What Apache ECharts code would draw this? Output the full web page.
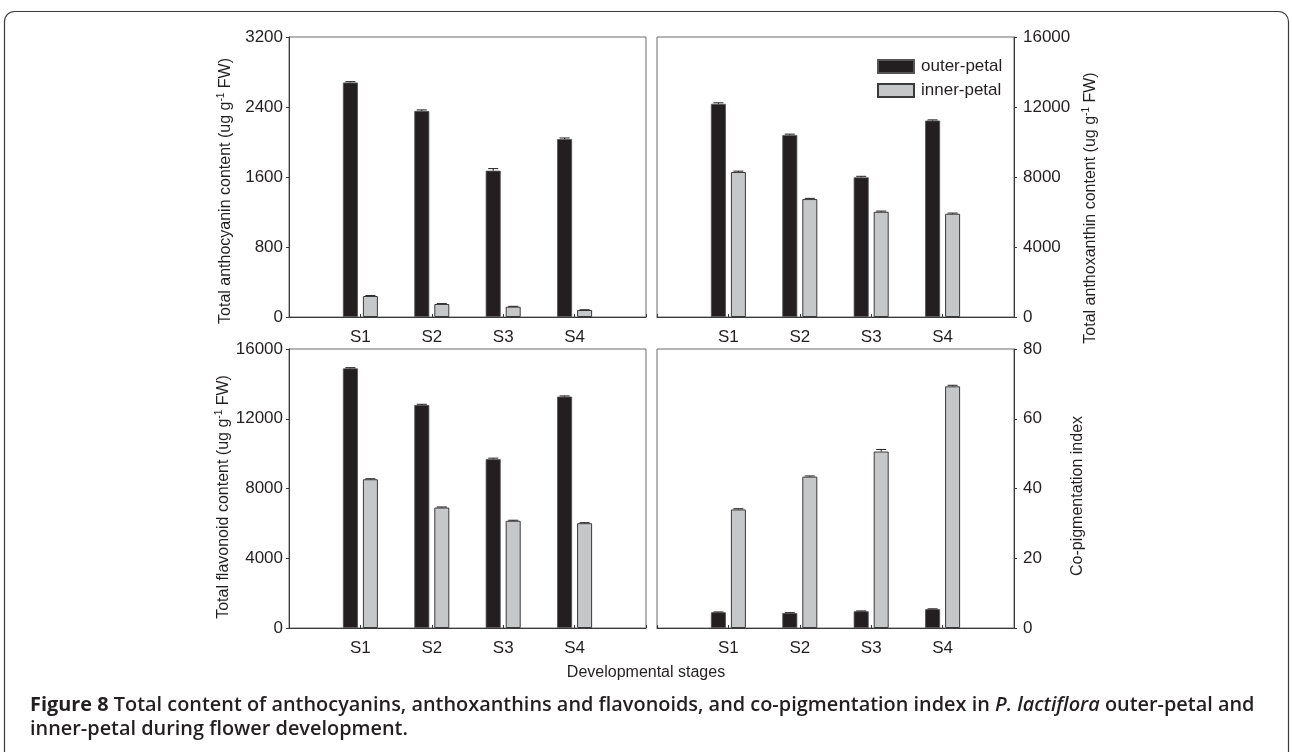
<!DOCTYPE html>
<html><head><meta charset="utf-8">
<script src="https://cdn.jsdelivr.net/npm/echarts@6/dist/echarts.min.js"></script>
<style>html,body{margin:0;padding:0;background:#fff}#c{width:1292px;height:752px}</style>
</head><body><div id="c"></div>
<script>
// ---- data ----
const categories = ['S1', 'S2', 'S3', 'S4'];
const seriesNames = ['outer-petal', 'inner-petal'];

const anthocyaninOuter = [2680, 2355, 1672, 2034];
const anthocyaninInner = [240, 149, 118, 80];
const anthocyaninOuterErr = [10, 12, 24, 12];
const anthocyaninInnerErr = [5, 4, 4, 3];

const anthoxanthinOuter = [12180, 10400, 7980, 11225];
const anthoxanthinInner = [8285, 6740, 6013, 5900];
const anthoxanthinOuterErr = [60, 50, 60, 40];
const anthoxanthinInnerErr = [50, 40, 40, 40];

const flavonoidOuter = [14890, 12790, 9680, 13270];
const flavonoidInner = [8530, 6910, 6150, 6010];
const flavonoidOuterErr = [40, 40, 60, 40];
const flavonoidInnerErr = [30, 30, 30, 30];

const copigOuter = [4.5, 4.3, 4.8, 5.4];
const copigInner = [34.0, 43.4, 50.6, 69.3];
const copigOuterErr = [0.1, 0.1, 0.1, 0.1];
const copigInnerErr = [0.2, 0.2, 0.6, 0.3];

const yMax = [3200, 16000, 16000, 80];
const yInterval = [800, 4000, 4000, 20];
const yTitles = [
  ['Total anthocyanin content (ug g', '-1', ' FW)'],
  ['Total anthoxanthin content (ug g', '-1', ' FW)'],
  ['Total flavonoid content (ug g', '-1', ' FW)'],
  ['Co-pigmentation index']
];
const xTitle = 'Developmental stages';

// ---- layout / style ----
const FONT = "'Liberation Sans', Arial, Helvetica, sans-serif";
const CAP_FONT = "'Open Sans', 'Noto Sans', sans-serif";
const BLACK = '#231f20';
const GRAY = '#c6c7c9';
const BAR_W = 15, BAR_GAP = 5;
const grids = [
  {left: 289, top: 37, width: 357, height: 280},
  {left: 657, top: 37, width: 357, height: 280},
  {left: 289, top: 349, width: 357, height: 279},
  {left: 657, top: 349, width: 357, height: 279}
];
const yRight = [false, true, false, true];
const yNameGap = [54, 67, 54, 54];
const yNameShift = [28, 62, 17, 15];

const panels = [
  [anthocyaninOuter, anthocyaninInner, anthocyaninOuterErr, anthocyaninInnerErr],
  [anthoxanthinOuter, anthoxanthinInner, anthoxanthinOuterErr, anthoxanthinInnerErr],
  [flavonoidOuter, flavonoidInner, flavonoidOuterErr, flavonoidInnerErr],
  [copigOuter, copigInner, copigOuterErr, copigInnerErr]
];

function yName(parts) {
  if (parts.length === 1) return '{n|' + parts[0] + '}';
  return '{n|' + parts[0] + '}{s|' + parts[1] + '}{n|' + parts[2] + '}';
}

const option = {
  animation: false,
  backgroundColor: '#fff',
  textStyle: {fontFamily: FONT, color: BLACK},
  grid: grids.map(g => Object.assign({show: true, borderColor: '#6a6a6a', borderWidth: 1, containLabel: false}, g)),
  xAxis: grids.map((g, i) => ({
    gridIndex: i, type: 'value', min: 0, max: categories.length + 1, interval: 1,
    axisLine: {show: true, onZero: false, lineStyle: {color: '#3a3a3a', width: 1}},
    axisTick: {show: true, inside: true, length: 3, lineStyle: {color: '#3a3a3a'}},
    splitLine: {show: false},
    axisLabel: {
      fontSize: 17, color: BLACK, fontFamily: FONT, margin: 12,
      formatter: v => (v >= 1 && v <= categories.length) ? categories[v - 1] : ''
    }
  })),
  yAxis: grids.map((g, i) => ({
    gridIndex: i, type: 'value', min: 0, max: yMax[i], interval: yInterval[i],
    position: yRight[i] ? 'right' : 'left',
    axisLine: {show: true, onZero: false, lineStyle: {color: '#3a3a3a', width: 1}},
    axisTick: {show: true, inside: false, length: 3, lineStyle: {color: '#3a3a3a'}},
    splitLine: {show: false},
    axisLabel: {fontSize: 17, color: BLACK, fontFamily: FONT, margin: yRight[i] ? 9 : 6,
      formatter: v => String(v)},
    name: yName(yTitles[i]),
    nameLocation: 'middle', nameRotate: 90, nameGap: yNameGap[i],
    nameTextStyle: {
      fontFamily: FONT,
      padding: [0, yNameShift[i], 0, 0],
      rich: {
        n: {fontSize: 16, color: BLACK, fontFamily: FONT, lineHeight: 19},
        s: {fontSize: 10, color: BLACK, fontFamily: FONT, verticalAlign: 'top', lineHeight: 19}
      }
    }
  })),
  legend: {
    data: seriesNames, orient: 'vertical', left: 872, top: 53,
    itemWidth: 36, itemHeight: 13, itemGap: 7, selectedMode: false,
    icon: 'rect',
    textStyle: {fontSize: 17, color: BLACK, fontFamily: FONT, padding: [0, 0, 0, 2]}
  },
  series: [],
  graphic: [
    {type: 'rect', silent: true, shape: {x: 4.5, y: 11.5, width: 1284, height: 800, r: 10},
     style: {fill: 'none', stroke: '#3a3a3a', lineWidth: 1.2}},
    {type: 'text', left: 'center', top: 665, silent: true,
     style: {text: xTitle, font: '16px ' + FONT, fill: BLACK}},
    {type: 'text', left: 30, top: 695, silent: true,
     style: {
       text: '{b|Figure 8 }{m|Total content of anthocyanins, anthoxanthins and flavonoids, and co-pigmentation index in }{i|P. lactiflora}{m| outer-petal and}\n{m|inner-petal during flower development.}',
       rich: {
         b: {font: "bold 19.9px " + CAP_FONT, fill: BLACK, lineHeight: 24},
         m: {font: "600 19.9px " + CAP_FONT, fill: BLACK, lineHeight: 24},
         i: {font: "italic 600 19.9px " + CAP_FONT, fill: BLACK, lineHeight: 24}
       }
     }}
  ]
};

panels.forEach((p, gi) => {
  const [outer, inner, outerErr, innerErr] = p;
  [outer, inner].forEach((vals, si) => {
    option.series.push({
      name: seriesNames[si], type: 'bar', xAxisIndex: gi, yAxisIndex: gi,
      barWidth: BAR_W, barGap: (BAR_GAP / BAR_W * 100) + '%',
      itemStyle: si === 0
        ? {color: BLACK, borderColor: '#555', borderWidth: 0.8}
        : {color: GRAY, borderColor: '#3a3a3a', borderWidth: 1},
      data: vals.map((v, k) => [k + 1, v]),
      z: 2
    });
  });
  [[outer, outerErr, -1], [inner, innerErr, 1]].forEach(([vals, errs, side]) => {
    option.series.push({
      type: 'custom', xAxisIndex: gi, yAxisIndex: gi, z: 3, silent: true,
      data: vals.map((v, k) => [k + 1, v, errs[k]]),
      renderItem: (params, api) => {
        const x = api.value(0), v = api.value(1), e = api.value(2);
        const base = api.coord([x, v]);
        const top = api.coord([x, v + e]);
        const cx = base[0] + side * (BAR_W + BAR_GAP) / 2;
        const hw = 5;
        return {
          type: 'group', children: [
            {type: 'line', shape: {x1: cx, y1: base[1], x2: cx, y2: top[1]}, style: {stroke: BLACK, lineWidth: 1}},
            {type: 'line', shape: {x1: cx - hw, y1: top[1], x2: cx + hw, y2: top[1]}, style: {stroke: BLACK, lineWidth: 1}}
          ]
        };
      }
    });
  });
});

const chart = echarts.init(document.getElementById('c'), null, {renderer: 'canvas'});
chart.setOption(option);
</script>
</body></html>
